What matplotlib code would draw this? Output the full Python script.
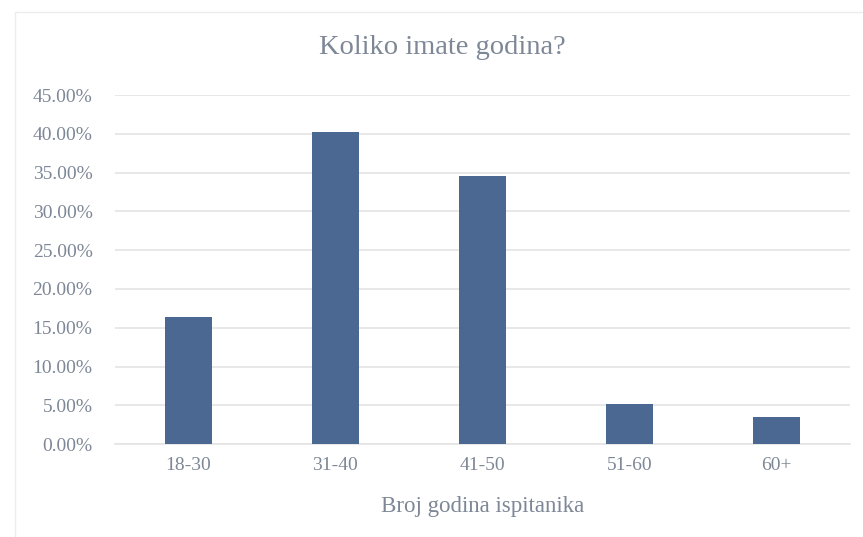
import matplotlib
matplotlib.use('Agg')
import matplotlib.pyplot as plt
import matplotlib.ticker as ticker
from matplotlib.patches import Rectangle

# data
age_groups = ['18-30', '31-40', '41-50', '51-60', '60+']
shares = [16.4, 40.2, 34.5, 5.2, 3.5]  # percent of respondents

TEXT_COLOR = '#7d8796'
BAR_COLOR = '#4a6891'
GRID_COLOR = '#e4e4e4'

plt.rcParams['font.family'] = ['Liberation Serif', 'DejaVu Serif']

fig = plt.figure(figsize=(8.63, 5.37), dpi=100)
ax = fig.add_axes([0.133, 0.173, 0.852, 0.65])

# faint chart-area border like the office export
fig.patches.append(Rectangle((15 / 863, -0.01), 1.0, 1 - 12 / 537 + 0.01,
                             transform=fig.transFigure, fill=False,
                             edgecolor='#ececec', linewidth=1.0))

x = range(len(age_groups))
ax.bar(x, shares, width=0.32, color=BAR_COLOR, zorder=3)

ax.set_xlim(-0.5, len(age_groups) - 0.5)
ax.set_ylim(0, 45)
ax.yaxis.set_major_locator(ticker.MultipleLocator(5))
ax.yaxis.set_major_formatter(ticker.FormatStrFormatter('%.2f%%'))
ax.grid(axis='y', color=GRID_COLOR, linewidth=1.2, zorder=0)
ax.set_xticks(list(x))
ax.set_xticklabels(age_groups)

for side in ['top', 'right', 'left']:
    ax.spines[side].set_visible(False)
ax.spines['bottom'].set_color(GRID_COLOR)
ax.spines['bottom'].set_linewidth(1.2)

ax.tick_params(axis='y', length=0, pad=16, labelsize=14, labelcolor=TEXT_COLOR)
ax.tick_params(axis='x', length=0, pad=9, labelsize=14, labelcolor=TEXT_COLOR)

ax.set_xlabel('Broj godina ispitanika', fontsize=16.5, color=TEXT_COLOR, labelpad=16)
fig.text(0.512, 0.912, 'Koliko imate godina?', ha='center', va='center',
         fontsize=20.5, color=TEXT_COLOR)

fig.savefig('out.png', dpi=100, facecolor='white')
